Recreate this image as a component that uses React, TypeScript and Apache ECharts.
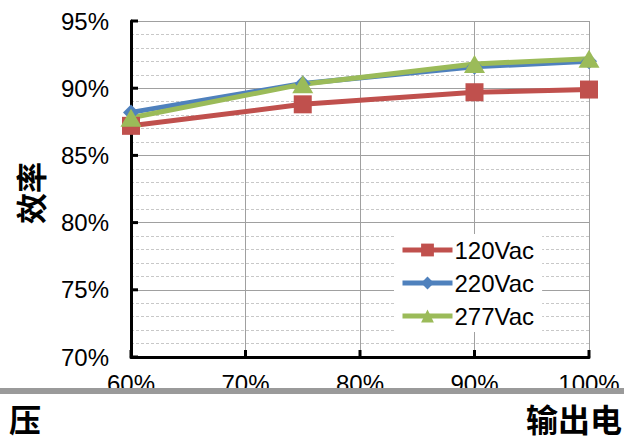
import React, { useEffect, useRef } from "react";
import * as echarts from "echarts";

const loads = [60, 75, 90, 100];
const v120 = [87.2, 88.8, 89.7, 89.9];
const v220 = [88.2, 90.35, 91.6, 92.0];
const v277 = [87.8, 90.3, 91.8, 92.2];
const seriesNames = ["120Vac", "220Vac", "277Vac"];
const xTicks = [60, 70, 80, 90, 100];
const yTicks = [70, 75, 80, 85, 90, 95];
const yAxisTitle = "效率";
const bottomLeftText = "压";
const bottomRightText = "输出电";

const FONT = "'Liberation Sans', Arial, sans-serif";
const CJK = "'Noto Sans CJK SC', sans-serif";

export default function App() {
  const ref = useRef<HTMLDivElement>(null);
  useEffect(() => {
    if (!ref.current) return;
    const chart = echarts.init(ref.current, null, { renderer: "svg" });
    const mk = (name: string, data: number[], color: string, symbol: string, size: number | number[]) => ({
      name,
      type: "line",
      data: loads.map((x, i) => [x, data[i]]),
      symbol,
      symbolSize: size,
      lineStyle: { color, width: 5 },
      itemStyle: { color },
      z: 3,
    });
    const tickSeries = (data: number[][], horizontal: boolean) => ({
      type: "custom",
      silent: true,
      clip: false,
      z: 10,
      data,
      renderItem: (params: any, api: any) => {
        const p = api.coord([api.value(0), api.value(1)]);
        return {
          type: "line",
          shape: horizontal
            ? { x1: p[0], y1: p[1], x2: p[0] + 7, y2: p[1] }
            : { x1: p[0], y1: p[1], x2: p[0], y2: p[1] - 7 },
          style: { stroke: "#000", lineWidth: 3 },
        };
      },
    });
    chart.setOption({
      animation: false,
      backgroundColor: "#ffffff",
      grid: { left: 131, right: 35, top: 21, bottom: 87 },
      xAxis: {
        type: "value",
        min: 60,
        max: 100,
        interval: 10,
        axisLine: { show: true, onZero: false, lineStyle: { color: "#000", width: 3 } },
        axisTick: { show: false },
        axisLabel: { formatter: "{value}%", color: "#000", fontSize: 24, fontFamily: FONT, margin: 14 },
        splitLine: { show: true, lineStyle: { color: "#a0a0a0", width: 1 } },
      },
      yAxis: {
        type: "value",
        min: 70,
        max: 95,
        interval: 5,
        axisLine: { show: true, onZero: false, lineStyle: { color: "#000", width: 3 } },
        axisTick: { show: false },
        axisLabel: { formatter: "{value}%", color: "#000", fontSize: 24, fontFamily: FONT, margin: 22 },
        splitLine: { show: true, lineStyle: { color: "#a0a0a0", width: 1 } },
        minorSplitLine: { show: true, lineStyle: { color: "#c8c8c8", width: 1, type: [3, 2] } },
        minorTick: { splitNumber: 5 },
      },
      legend: {
        left: 394,
        top: 234,
        orient: "vertical",
        itemWidth: 50,
        itemHeight: 16,
        itemGap: 9,
        backgroundColor: "#ffffff",
        padding: [4, 8, 4, 6],
        data: seriesNames,
        lineStyle: { width: 5 },
        textStyle: { color: "#000", fontSize: 24, fontFamily: FONT, padding: [0, 0, 0, -3] },
      },
      series: [
        tickSeries(yTicks.map((v) => [xTicks[0], v]), true),
        tickSeries(xTicks.map((v) => [v, yTicks[0]]), false),
        mk(seriesNames[0], v120, "#C0504D", "rect", 18),
        mk(seriesNames[1], v220, "#4F81BD", "diamond", 16),
        mk(seriesNames[2], v277, "#9BBB59", "triangle", [21, 18]),
      ],
      graphic: [
        {
          type: "text",
          x: 29,
          y: 193,
          rotation: Math.PI / 2,
          style: {
            text: yAxisTitle,
            fontSize: 31,
            fontWeight: "bold",
            fontFamily: CJK,
            fill: "#000",
            align: "center",
            verticalAlign: "middle",
          },
        },
        {
          type: "rect",
          shape: { x: 0, y: 388, width: 624, height: 6 },
          style: { fill: "#9a9a9a" },
          z: 100,
        },
        {
          type: "rect",
          shape: { x: 0, y: 394, width: 624, height: 8 },
          style: { fill: "#ffffff" },
          z: 100,
        },
        {
          type: "text",
          left: 9,
          top: 402,
          style: { text: bottomLeftText, fontSize: 32, fontWeight: "bold", fontFamily: CJK, fill: "#000" },
          z: 101,
        },
        {
          type: "text",
          right: 2,
          top: 402,
          style: { text: bottomRightText, fontSize: 32, fontWeight: "bold", fontFamily: CJK, fill: "#000" },
          z: 101,
        },
      ],
    });
    return () => chart.dispose();
  }, []);
  return <div ref={ref} style={{ position: "fixed", left: 0, top: 0, width: 624, height: 444 }} />;
}
